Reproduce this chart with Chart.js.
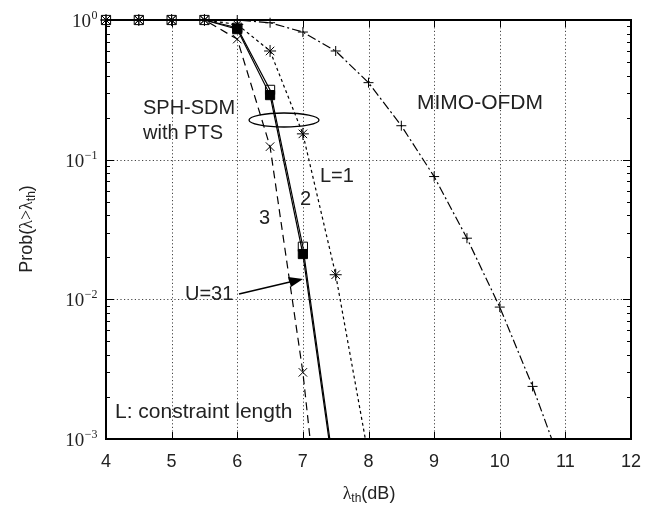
<!DOCTYPE html>
<html>
<head>
<meta charset="utf-8">
<script src="https://cdn.jsdelivr.net/npm/chart.js@4.4.0/dist/chart.umd.min.js"></script>
<style>
  html, body { margin: 0; padding: 0; background: #fff; }
  #wrap { width: 660px; height: 506px; }
</style>
</head>
<body>
<div id="wrap"><canvas id="c"></canvas></div>
<script>
// values
const xMimo = [4, 4.5, 5, 5.5, 6, 6.5, 7, 7.5, 8, 8.5, 9, 9.5, 10, 10.5, 11];
const pMimo = [1, 1, 1, 1, 1, 0.956, 0.82, 0.60, 0.356, 0.175, 0.0757, 0.0274, 0.0088, 0.00238, 0.00054];
const xL1 = [4, 4.5, 5, 5.5, 6, 6.5, 7, 7.5, 8];
const pL1 = [1, 1, 1, 1, 0.93, 0.60, 0.153, 0.015, 0.00075];
const xPts = [4, 4.5, 5, 5.5, 6, 6.5, 7, 7.5];
const pL2 = [1, 1, 1, 1, 0.88, 0.316, 0.0238, 0.0005];
const pL3 = [1, 1, 1, 1, 0.73, 0.124, 0.003, 0.00002];
const pU31 = [1, 1, 1, 1, 0.86, 0.29, 0.0211, 0.00045];
const xTicks = [4, 5, 6, 7, 8, 9, 10, 11, 12];
const yDecades = [0, -1, -2, -3];

function pts(xs, ys) {
  return xs.map((x, i) => ({ x: x, y: ys[i] }));
}

const sans = '"Liberation Sans", Arial, sans-serif';
const serif = '"Liberation Serif", "Times New Roman", serif';

function series(label, data, dash, style, r, fill) {
  return {
    label: label,
    data: data,
    borderColor: '#000',
    borderWidth: 1.2,
    borderDash: dash,
    pointStyle: style,
    pointRadius: r,
    pointBorderColor: '#000',
    pointBorderWidth: 1,
    pointBackgroundColor: fill,
    tension: 0,
    fill: false,
    clip: { left: 10, top: 10, right: 10, bottom: 0 }
  };
}

// frame, grid, ticks and labels
const decor = {
  id: 'decor',
  beforeDatasetsDraw(chart) {
    const { ctx, chartArea: a, scales: { x, y } } = chart;
    ctx.save();
    ctx.strokeStyle = '#444';
    ctx.lineWidth = 1;
    ctx.setLineDash([1.2, 2.4]);
    xTicks.slice(1, -1).forEach(v => {
      const px = Math.round(x.getPixelForValue(v)) + 0.5;
      ctx.beginPath(); ctx.moveTo(px, a.top); ctx.lineTo(px, a.bottom); ctx.stroke();
    });
    [-1, -2].forEach(d => {
      const py = Math.round(y.getPixelForValue(Math.pow(10, d))) + 0.5;
      ctx.beginPath(); ctx.moveTo(a.left, py); ctx.lineTo(a.right, py); ctx.stroke();
    });
    ctx.restore();
  },
  afterDraw(chart) {
    const { ctx, chartArea: a, scales: { x, y } } = chart;
    ctx.save();
    ctx.strokeStyle = '#000';
    ctx.setLineDash([]);
    ctx.lineWidth = 1;
    // x ticks, inward, top and bottom
    xTicks.forEach(v => {
      const px = Math.round(x.getPixelForValue(v)) + 0.5;
      ctx.beginPath();
      ctx.moveTo(px, a.bottom); ctx.lineTo(px, a.bottom - 7);
      ctx.moveTo(px, a.top); ctx.lineTo(px, a.top + 7);
      ctx.stroke();
    });
    // y ticks, major and minor, left and right
    for (let d = -3; d <= 0; d++) {
      for (let m = 1; m <= 9; m++) {
        const v = m * Math.pow(10, d);
        if (v > 1) break;
        const py = Math.round(y.getPixelForValue(v)) + 0.5;
        const len = m === 1 ? 8 : 4;
        ctx.beginPath();
        ctx.moveTo(a.left, py); ctx.lineTo(a.left + len, py);
        ctx.moveTo(a.right, py); ctx.lineTo(a.right - len, py);
        ctx.stroke();
      }
    }
    // frame
    ctx.lineWidth = 2;
    ctx.strokeRect(a.left, a.top, a.right - a.left, a.bottom - a.top);

    ctx.fillStyle = '#222';
    // x tick labels
    ctx.font = '18px ' + sans;
    ctx.textAlign = 'center';
    ctx.textBaseline = 'middle';
    xTicks.forEach(v => ctx.fillText(String(v), x.getPixelForValue(v), 462));
    // y tick labels 10^n
    yDecades.forEach(d => {
      const py = y.getPixelForValue(Math.pow(10, d));
      const sup = d === 0 ? '0' : '\u2212' + (-d);
      ctx.font = '12px ' + serif;
      const sw = ctx.measureText(sup).width;
      ctx.textAlign = 'left';
      ctx.textBaseline = 'alphabetic';
      ctx.font = '19px ' + serif;
      const bw = ctx.measureText('10').width;
      const x0 = 97 - sw - bw;
      ctx.fillText('10', x0, py + 7);
      ctx.font = '12px ' + serif;
      ctx.fillText(sup, x0 + bw + 0.5, py - 1);
    });
    // x axis title
    ctx.textBaseline = 'alphabetic';
    const t1 = '\u03bb';
    ctx.font = '18px ' + serif;
    const lw = ctx.measureText(t1).width;
    ctx.font = '12px ' + sans;
    const thw = ctx.measureText('th').width;
    ctx.font = '18px ' + sans;
    const dbw = ctx.measureText('(dB)').width;
    const sx = 369 - (lw + thw + dbw) / 2;
    ctx.font = '18px ' + serif;
    ctx.fillText(t1, sx, 499);
    ctx.font = '12px ' + sans;
    ctx.fillText('th', sx + lw, 502);
    ctx.font = '18px ' + sans;
    ctx.fillText('(dB)', sx + lw + thw, 499);

    // y axis title, rotated
    ctx.save();
    ctx.translate(32, 229);
    ctx.rotate(-Math.PI / 2);
    const parts = [['Prob(', '18px ' + sans, 0], ['\u03bb>\u03bb', '18px ' + serif, 0], ['th', '12px ' + sans, 3], [')', '18px ' + sans, 0]];
    let tot = 0;
    parts.forEach(p => { ctx.font = p[1]; tot += ctx.measureText(p[0]).width; });
    let cx = -tot / 2;
    parts.forEach(p => {
      ctx.font = p[1];
      ctx.fillText(p[0], cx, p[2]);
      cx += ctx.measureText(p[0]).width;
    });
    ctx.restore();

    // annotations
    ctx.textAlign = 'left';
    ctx.textBaseline = 'middle';
    ctx.font = '20px ' + sans;
    ctx.fillText('SPH-SDM', 143, 108);
    ctx.fillText('with PTS', 143, 133);
    ctx.fillText('L=1', 320, 176);
    ctx.fillText('2', 300, 199);
    ctx.fillText('3', 259, 218);
    ctx.fillText('U=31', 185, 294);
    ctx.font = '21px ' + sans;
    ctx.fillText('MIMO-OFDM', 417, 103);
    ctx.fillText('L: constraint length', 115, 412);

    // ellipse around the SPH-SDM curves
    ctx.strokeStyle = '#000';
    ctx.lineWidth = 1.3;
    ctx.beginPath();
    ctx.ellipse(284, 120, 35, 7, 0, 0, Math.PI * 2);
    ctx.stroke();

    // arrow to U=31
    ctx.lineWidth = 1.5;
    ctx.beginPath();
    ctx.moveTo(239, 294);
    ctx.lineTo(292, 281.5);
    ctx.stroke();
    ctx.beginPath();
    ctx.moveTo(303, 279);
    ctx.lineTo(288, 277);
    ctx.lineTo(291, 287);
    ctx.closePath();
    ctx.fillStyle = '#000';
    ctx.fill();
    ctx.restore();
  }
};

// filled squares only where they stand apart from the flat part
const u31Radius = xPts.map(x => (x < 6 ? 0 : 6.5));

new Chart(document.getElementById('c'), {
  type: 'line',
  data: {
    datasets: [
      series('U=31', pts(xPts, pU31), [], 'rect', u31Radius, '#000'),
      series('MIMO-OFDM', pts(xMimo, pMimo), [9, 3, 2, 3], 'cross', 5, '#000'),
      series('L=1', pts(xL1, pL1), [3, 3], 'star', 6, '#000'),
      series('L=3', pts(xPts, pL3), [8, 5], 'crossRot', 6, '#000'),
      series('L=2', pts(xPts, pL2), [], 'rect', 6.5, 'rgba(255,255,255,0)')
    ]
  },
  options: {
    responsive: true,
    maintainAspectRatio: false,
    animation: false,
    devicePixelRatio: 1,
    layout: { padding: { left: 0, top: 20, right: 29, bottom: 0 } },
    plugins: { legend: { display: false }, tooltip: { enabled: false } },
    scales: {
      x: {
        type: 'linear', min: 4, max: 12,
        ticks: { display: false, stepSize: 1 },
        grid: { display: false },
        border: { display: false },
        afterFit: s => { s.height = 67; }
      },
      y: {
        type: 'logarithmic', min: 0.001, max: 1,
        ticks: { display: false },
        grid: { display: false },
        border: { display: false },
        afterFit: s => { s.width = 106; }
      }
    }
  },
  plugins: [decor]
});
</script>
</body>
</html>
